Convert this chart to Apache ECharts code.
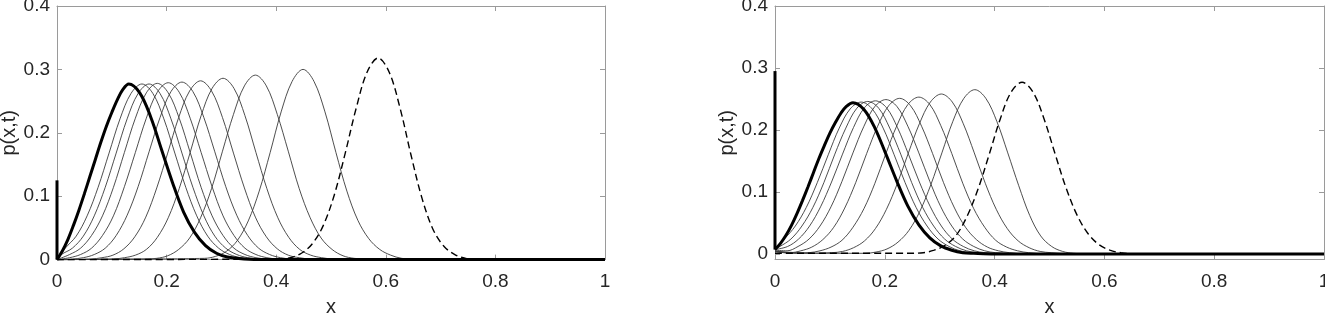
<!DOCTYPE html>
<html>
<head>
<meta charset="utf-8">
<script src="https://cdn.jsdelivr.net/npm/echarts@6/dist/echarts.min.js"></script>
<style>
html,body{margin:0;padding:0;background:#fff;}
#chart{width:1325px;height:313px;}
</style>
</head>
<body>
<div id="chart"></div>
<script>
// ---------- tick labels ----------
const xTicks = [0, 0.2, 0.4, 0.6, 0.8, 1];
const yTicks = [0, 0.1, 0.2, 0.3, 0.4];

// ---------- left panel ----------
const leftBoldStep = [[0, 0], [0, 0.125]];
const leftBold = [[0,0],[0.01,0.014],[0.02,0.032],[0.03,0.054],[0.04,0.078],[0.05,0.104],[0.06,0.131],[0.07,0.158],[0.08,0.185],[0.09,0.21],[0.1,0.232],[0.11,0.252],[0.12,0.268],[0.131,0.277],[0.151,0.263],[0.171,0.225],[0.191,0.173],[0.211,0.121],[0.231,0.075],[0.251,0.043],[0.271,0.022],[0.291,0.01],[0.311,0.004],[0.341,0.001],[0.38,0],[1,0]];
const leftThin1 = [[0,0],[0.015,0.018],[0.035,0.037],[0.055,0.069],[0.075,0.114],[0.095,0.168],[0.115,0.222],[0.135,0.262],[0.155,0.277],[0.175,0.262],[0.195,0.222],[0.215,0.168],[0.235,0.114],[0.255,0.069],[0.275,0.037],[0.295,0.018],[0.315,0.008],[0.335,0.003],[0.355,0.001],[0.4,0],[1,0]];
const leftThin2 = [[0,0],[0.008,0.008],[0.028,0.018],[0.048,0.037],[0.068,0.069],[0.088,0.114],[0.108,0.168],[0.128,0.222],[0.148,0.262],[0.168,0.277],[0.188,0.262],[0.208,0.222],[0.228,0.168],[0.248,0.114],[0.268,0.069],[0.288,0.037],[0.308,0.018],[0.328,0.008],[0.348,0.003],[0.368,0.001],[0.41,0],[1,0]];
const leftThin3 = [[0,0],[0.023,0.008],[0.043,0.018],[0.063,0.038],[0.083,0.069],[0.103,0.114],[0.123,0.169],[0.143,0.223],[0.163,0.263],[0.183,0.278],[0.203,0.263],[0.223,0.223],[0.243,0.169],[0.263,0.114],[0.283,0.069],[0.303,0.038],[0.323,0.018],[0.343,0.008],[0.363,0.003],[0.383,0.001],[0.43,0],[1,0]];
const leftThin4 = [[0,0],[0.023,0.003],[0.043,0.008],[0.063,0.018],[0.083,0.038],[0.103,0.069],[0.123,0.115],[0.143,0.169],[0.163,0.223],[0.183,0.264],[0.203,0.279],[0.223,0.264],[0.243,0.223],[0.263,0.169],[0.283,0.115],[0.303,0.069],[0.323,0.038],[0.343,0.018],[0.363,0.008],[0.383,0.003],[0.403,0.001],[0.45,0],[1,0]];
const leftThin5 = [[0,0],[0.028,0.001],[0.048,0.003],[0.068,0.008],[0.088,0.018],[0.108,0.038],[0.128,0.07],[0.148,0.115],[0.168,0.17],[0.188,0.224],[0.208,0.265],[0.228,0.28],[0.248,0.265],[0.268,0.224],[0.288,0.17],[0.308,0.115],[0.328,0.07],[0.348,0.038],[0.368,0.018],[0.388,0.008],[0.408,0.003],[0.428,0.001],[0.48,0],[1,0]];
const leftThin6 = [[0,0],[0.062,0.001],[0.082,0.003],[0.102,0.007],[0.122,0.017],[0.142,0.036],[0.162,0.067],[0.182,0.113],[0.202,0.168],[0.222,0.224],[0.242,0.266],[0.262,0.282],[0.282,0.266],[0.302,0.224],[0.322,0.168],[0.342,0.113],[0.362,0.067],[0.382,0.036],[0.402,0.017],[0.422,0.007],[0.442,0.003],[0.462,0.001],[0.51,0],[1,0]];
const leftThin7 = [[0,0],[0.103,0.001],[0.123,0.003],[0.143,0.007],[0.163,0.016],[0.183,0.035],[0.203,0.066],[0.223,0.112],[0.243,0.169],[0.263,0.227],[0.283,0.27],[0.303,0.286],[0.323,0.27],[0.343,0.227],[0.363,0.169],[0.383,0.112],[0.403,0.066],[0.423,0.035],[0.443,0.016],[0.463,0.007],[0.483,0.003],[0.503,0.001],[0.55,0],[1,0]];
const leftThin8 = [[0,0],[0.162,0.001],[0.182,0.002],[0.202,0.006],[0.222,0.016],[0.242,0.034],[0.262,0.066],[0.282,0.112],[0.302,0.171],[0.322,0.229],[0.342,0.274],[0.362,0.291],[0.382,0.274],[0.402,0.229],[0.422,0.171],[0.442,0.112],[0.462,0.066],[0.482,0.034],[0.502,0.016],[0.522,0.006],[0.542,0.002],[0.562,0.001],[0.6,0],[1,0]];
const leftThin9 = [[0,0],[0.269,0.002],[0.289,0.005],[0.309,0.013],[0.329,0.03],[0.349,0.061],[0.369,0.108],[0.389,0.169],[0.409,0.233],[0.429,0.281],[0.449,0.3],[0.469,0.281],[0.489,0.233],[0.509,0.169],[0.529,0.108],[0.549,0.062],[0.569,0.033],[0.589,0.016],[0.609,0.007],[0.629,0.002],[0.66,0],[1,0]];
const leftDashed = [[0,0],[0.406,0.001],[0.426,0.003],[0.446,0.01],[0.466,0.025],[0.486,0.054],[0.506,0.102],[0.526,0.168],[0.546,0.239],[0.566,0.296],[0.586,0.318],[0.606,0.296],[0.626,0.239],[0.646,0.165],[0.666,0.097],[0.686,0.048],[0.706,0.021],[0.726,0.008],[0.746,0.002],[0.77,0],[1,0]];

// ---------- right panel ----------
const rightBoldStep = [[0, 0.007], [0, 0.295]];
const rightBold = [[0,0.007],[0.01,0.017],[0.02,0.03],[0.03,0.046],[0.04,0.065],[0.05,0.086],[0.06,0.108],[0.07,0.131],[0.08,0.154],[0.09,0.175],[0.1,0.195],[0.11,0.212],[0.12,0.227],[0.13,0.238],[0.142,0.244],[0.162,0.233],[0.182,0.203],[0.202,0.161],[0.222,0.117],[0.242,0.077],[0.262,0.047],[0.282,0.026],[0.302,0.013],[0.322,0.006],[0.342,0.002],[0.362,0.001],[0.4,0],[1,0]];
const rightThin1 = [[0,0.008],[0.017,0.024],[0.037,0.045],[0.057,0.075],[0.077,0.115],[0.097,0.16],[0.117,0.203],[0.137,0.234],[0.157,0.245],[0.177,0.234],[0.197,0.203],[0.217,0.16],[0.237,0.115],[0.257,0.075],[0.277,0.045],[0.297,0.024],[0.317,0.012],[0.337,0.005],[0.357,0.002],[0.377,0.001],[0.42,0],[1,0]];
const rightThin2 = [[0,0.008],[0.009,0.012],[0.029,0.024],[0.049,0.045],[0.069,0.075],[0.089,0.115],[0.109,0.161],[0.129,0.203],[0.149,0.235],[0.169,0.246],[0.189,0.235],[0.209,0.203],[0.229,0.161],[0.249,0.115],[0.269,0.075],[0.289,0.045],[0.309,0.024],[0.329,0.012],[0.349,0.005],[0.369,0.002],[0.39,0.001],[0.43,0],[1,0]];
const rightThin3 = [[0,0.007],[0.023,0.012],[0.043,0.024],[0.063,0.045],[0.083,0.076],[0.103,0.116],[0.123,0.161],[0.143,0.204],[0.163,0.236],[0.183,0.247],[0.203,0.236],[0.223,0.204],[0.243,0.161],[0.263,0.116],[0.283,0.076],[0.303,0.045],[0.323,0.024],[0.343,0.012],[0.363,0.005],[0.383,0.002],[0.41,0.001],[0.45,0],[1,0]];
const rightThin4 = [[0,0.006],[0.022,0.005],[0.042,0.012],[0.062,0.024],[0.082,0.045],[0.102,0.076],[0.122,0.117],[0.142,0.163],[0.162,0.206],[0.182,0.238],[0.202,0.249],[0.222,0.238],[0.242,0.206],[0.262,0.163],[0.282,0.117],[0.302,0.076],[0.322,0.045],[0.342,0.024],[0.362,0.012],[0.382,0.005],[0.402,0.002],[0.43,0.001],[0.47,0],[1,0]];
const rightThin5 = [[0,0.005],[0.027,0.002],[0.047,0.005],[0.067,0.011],[0.087,0.023],[0.107,0.043],[0.127,0.074],[0.147,0.115],[0.167,0.162],[0.187,0.206],[0.207,0.239],[0.227,0.251],[0.247,0.239],[0.267,0.206],[0.287,0.162],[0.307,0.115],[0.327,0.074],[0.347,0.043],[0.367,0.023],[0.387,0.011],[0.407,0.005],[0.427,0.002],[0.46,0],[1,0]];
const rightThin6 = [[0,0.004],[0.03,0.001],[0.062,0.002],[0.082,0.005],[0.102,0.011],[0.122,0.022],[0.142,0.043],[0.162,0.073],[0.182,0.114],[0.202,0.162],[0.222,0.207],[0.242,0.241],[0.262,0.253],[0.282,0.241],[0.302,0.207],[0.322,0.162],[0.342,0.114],[0.362,0.073],[0.382,0.043],[0.402,0.022],[0.422,0.011],[0.442,0.005],[0.462,0.002],[0.5,0],[1,0]];
const rightThin7 = [[0,0.004],[0.05,0.001],[0.103,0.002],[0.123,0.004],[0.143,0.01],[0.163,0.021],[0.183,0.041],[0.203,0.072],[0.223,0.114],[0.243,0.163],[0.263,0.21],[0.283,0.245],[0.303,0.258],[0.323,0.245],[0.343,0.21],[0.363,0.163],[0.383,0.114],[0.403,0.072],[0.423,0.041],[0.443,0.021],[0.463,0.01],[0.483,0.004],[0.503,0.002],[0.54,0],[1,0]];
const rightThin8 = [[0,0.004],[0.08,0.001],[0.164,0.001],[0.184,0.003],[0.204,0.008],[0.224,0.019],[0.244,0.038],[0.264,0.069],[0.284,0.112],[0.304,0.163],[0.324,0.214],[0.344,0.251],[0.364,0.265],[0.384,0.251],[0.404,0.214],[0.424,0.163],[0.444,0.11],[0.464,0.062],[0.484,0.029],[0.504,0.012],[0.524,0.004],[0.544,0.001],[0.57,0],[1,0]];
const rightDashed = [[0,0.001],[0.24,0.001],[0.27,0.002],[0.29,0.006],[0.31,0.014],[0.33,0.03],[0.35,0.061],[0.37,0.105],[0.39,0.16],[0.41,0.217],[0.43,0.261],[0.45,0.277],[0.47,0.261],[0.49,0.218],[0.51,0.162],[0.53,0.107],[0.55,0.063],[0.57,0.033],[0.59,0.015],[0.61,0.006],[0.63,0.002],[0.66,0],[1,0]];

const leftThin = [leftThin1, leftThin2, leftThin3, leftThin4, leftThin5, leftThin6, leftThin7, leftThin8, leftThin9];
const rightThin = [rightThin1, rightThin2, rightThin3, rightThin4, rightThin5, rightThin6, rightThin7, rightThin8];

// ---------- styling ----------
const FONT = '"Liberation Sans", Arial, Helvetica, sans-serif';
const TEXT = '#262626';
const AXIS = '#9a9a9a';
const THIN = { color: '#3a3a3a', width: 0.9 };
const BOLD = { color: '#000', width: 3 };
const DASH = { color: '#000', width: 1.4, type: [7, 4] };
const TICK_FS = 19;
const NAME_FS = 20;

function xAxisPair(gridIndex) {
  const common = {
    type: 'value', gridIndex, min: 0, max: 1, interval: 0.2,
    splitLine: { show: false },
    axisLine: { show: true, onZero: false, lineStyle: { color: AXIS, width: 1 } },
    axisTick: { show: true, inside: true, length: 5, lineStyle: { color: AXIS } }
  };
  return [
    Object.assign({}, common, {
      position: 'bottom',
      axisLabel: { show: true, color: TEXT, fontSize: TICK_FS, fontFamily: FONT, margin: 13,
        customValues: xTicks, formatter: v => String(v) },
      axisTick: Object.assign({}, common.axisTick, { customValues: xTicks }),
      name: 'x', nameLocation: 'middle', nameGap: 38,
      nameTextStyle: { color: TEXT, fontSize: NAME_FS, fontFamily: FONT }
    }),
    Object.assign({}, common, {
      position: 'top', axisLabel: { show: false },
      axisTick: Object.assign({}, common.axisTick, { customValues: xTicks })
    })
  ];
}
function yAxisPair(gridIndex, ymin, nameGap) {
  const common = {
    type: 'value', gridIndex, min: ymin, max: 0.4,
    splitLine: { show: false },
    axisLine: { show: true, onZero: false, lineStyle: { color: AXIS, width: 1 } },
    axisTick: { show: true, inside: true, length: 5, lineStyle: { color: AXIS }, customValues: yTicks }
  };
  return [
    Object.assign({}, common, {
      position: 'left',
      axisLabel: { show: true, color: TEXT, fontSize: TICK_FS, fontFamily: FONT, margin: 7,
        customValues: yTicks, formatter: v => String(v) },
      name: 'p(x,t)', nameLocation: 'middle', nameGap: nameGap, nameRotate: 90,
      nameTextStyle: { color: TEXT, fontSize: NAME_FS, fontFamily: FONT }
    }),
    Object.assign({}, common, { position: 'right', axisLabel: { show: false } })
  ];
}

function line(data, axisIdx, style, z) {
  return {
    type: 'line', xAxisIndex: axisIdx, yAxisIndex: axisIdx, data,
    showSymbol: false, symbol: 'none', smooth: 0.35,
    lineStyle: style, silent: true, clip: false, z: z
  };
}

const series = [];
leftThin.forEach(d => series.push(line(d, 0, THIN, 2)));
series.push(line(leftDashed, 0, DASH, 3));
series.push(line(leftBold, 0, BOLD, 4));
series.push(Object.assign(line(leftBoldStep, 0, BOLD, 4), { smooth: false }));
rightThin.forEach(d => series.push(line(d, 2, THIN, 2)));
series.push(line(rightDashed, 2, DASH, 3));
series.push(line(rightBold, 2, BOLD, 4));
series.push(Object.assign(line(rightBoldStep, 2, BOLD, 4), { smooth: false }));

const chart = echarts.init(document.getElementById('chart'), null, { renderer: 'canvas' });
chart.setOption({
  animation: false,
  backgroundColor: '#fff',
  textStyle: { fontFamily: FONT },
  grid: [
    { left: 57, top: 6, width: 548, height: 253.6, outerBoundsMode: 'none', containLabel: false },
    { left: 775, top: 6, width: 549, height: 253.5, outerBoundsMode: 'none', containLabel: false }
  ],
  xAxis: [...xAxisPair(0), ...xAxisPair(1)],
  yAxis: [...yAxisPair(0, 0, 34), ...yAxisPair(1, -0.009, 29)],
  series
});
</script>
</body>
</html>
